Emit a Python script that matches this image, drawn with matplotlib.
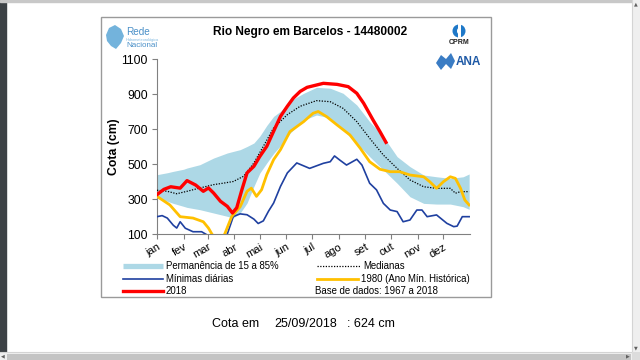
import matplotlib
matplotlib.use("Agg")
import matplotlib.pyplot as plt
from matplotlib.patches import Rectangle, Polygon, Ellipse
import numpy as np

plt.rcParams['font.family'] = ['Liberation Sans', 'DejaVu Sans']

# ---------------- data ----------------
months = ['jan', 'fev', 'mar', 'abr', 'mai', 'jun', 'jul', 'ago', 'set', 'out', 'nov', 'dez']
month_start_days = [0, 31, 59, 90, 120, 151, 181, 212, 243, 273, 304, 334]

band_days = [0, 12, 19, 31, 35, 50, 66, 82, 89, 97, 105, 113, 120, 128, 136, 145, 155, 171,
             186, 202, 217, 233, 248, 264, 280, 295, 311, 326, 342, 357, 364]
band_upper = [439, 450, 458, 470, 477, 496, 534, 563, 572, 582, 600, 620, 660, 720, 772, 805,
              860, 904, 938, 933, 904, 837, 742, 656, 542, 485, 437, 427, 418, 427, 443]
band_lower = [306, 287, 275, 258, 252, 239, 220, 201, 192, 220, 277, 372, 449, 506, 560, 610,
              675, 751, 780, 763, 694, 618, 542, 466, 390, 313, 275, 271, 271, 256, 241]

median_days = [0, 12, 23, 35, 50, 66, 78, 89, 101, 113, 124, 136, 152, 167, 186, 202, 217,
               233, 248, 264, 280, 295, 311, 326, 342, 348, 354, 364]
median_vals = [350, 344, 330, 344, 363, 382, 391, 400, 430, 506, 601, 706, 782, 830, 862, 856,
               818, 742, 647, 551, 475, 409, 370, 361, 361, 333, 342, 342]

y2018_days = [0, 8, 16, 27, 35, 45, 54, 60, 66, 74, 82, 88, 93, 99, 105, 113, 120, 128, 136,
              144, 152, 159, 167, 175, 194, 210, 223, 233, 241, 252, 260, 267]
y2018_vals = [325, 355, 370, 362, 405, 380, 344, 363, 334, 287, 258, 220, 250, 353, 449, 487,
              544, 601, 687, 772, 830, 877, 915, 938, 961, 955, 942, 904, 847, 751, 685, 624]

y1980_days = [0, 15, 27, 42, 54, 60, 64, 72, 79, 87, 97, 105, 110, 116, 122, 128, 136, 144,
              155, 171, 182, 188, 198, 210, 225, 237, 248, 260, 272, 283, 295, 311, 318, 326,
              334, 342, 348, 354, 359, 364]
y1980_vals = [315, 266, 199, 191, 170, 134, 100, 50, 100, 199, 256, 344, 362, 315, 353, 439,
              525, 582, 685, 742, 790, 800, 770, 723, 666, 590, 513, 470, 456, 456, 437, 427,
              399, 361, 399, 427, 418, 361, 294, 266]

min_days = [0, 6, 12, 19, 23, 27, 33, 42, 52, 58, 70, 82, 89, 97, 105, 113, 118, 124, 130,
            136, 144, 152, 163, 178, 194, 202, 207, 213, 221, 233, 239, 248, 256, 264, 272,
            280, 287, 295, 303, 309, 315, 326, 338, 346, 350, 356, 364]
min_vals = [199, 205, 191, 150, 134, 170, 133, 113, 113, 96, 60, 100, 200, 215, 210, 185, 160,
            175, 230, 277, 372, 449, 506, 475, 504, 513, 546, 523, 494, 527, 494, 390, 352,
            275, 237, 228, 170, 180, 237, 237, 199, 209, 161, 142, 145, 199, 199]

yticks = [100, 300, 500, 700, 900, 1100]

title = 'Rio Negro em Barcelos - 14480002'
ylabel = 'Cota (cm)'
legend_labels = ['Permanência de 15 a 85%', 'Medianas', 'Mínimas diárias',
                 '1980 (Ano Mín. Histórica)', '2018', 'Base de dados: 1967 a 2018']
footer = ['Cota em', '25/09/2018', ': 624 cm']

# ---------------- figure ----------------
W, H = 640, 360
fig = plt.figure(figsize=(6.4, 3.6), dpi=100)
fig.patch.set_facecolor('white')

# overlay in pixel coordinates
ov = fig.add_axes([0, 0, 1, 1])
ov.set_xlim(0, W)
ov.set_ylim(H, 0)
ov.axis('off')

# browser chrome
ov.add_patch(Rectangle((0, 0), 6, 352, color='#3d4246', zorder=1))
ov.add_patch(Rectangle((0, 0), W, 1.5, color='#c8c8c8', zorder=1))
ov.add_patch(Rectangle((632, 0), 8, 352, facecolor='#efefef', edgecolor='none', zorder=1))
ov.plot([632, 632], [0, 352], color='#d4d4d4', lw=0.8, zorder=2)
ov.add_patch(Rectangle((0, 352), W, 8, facecolor='#efefef', edgecolor='none', zorder=1))
ov.add_patch(Rectangle((7, 353.5), 624, 6.5, facecolor='#c4c4c4', edgecolor='none', zorder=2))
ov.plot([0, 632], [352, 352], color='#d4d4d4', lw=0.8, zorder=2)
ov.add_patch(Rectangle((632, 352), 8, 8, facecolor='#dcdcdc', edgecolor='none', zorder=2))
ov.text(636, 4, '▲', fontsize=3.5, color='#606060', ha='center', va='center', family='DejaVu Sans')
ov.text(636, 348, '▼', fontsize=3.5, color='#606060', ha='center', va='center', family='DejaVu Sans')
ov.text(3, 356, '◀', fontsize=3.5, color='#606060', ha='center', va='center', family='DejaVu Sans')
ov.text(628, 356, '▶', fontsize=3.5, color='#606060', ha='center', va='center', family='DejaVu Sans')

# chart frame
ov.add_patch(Rectangle((101, 17), 390, 280, facecolor='none', edgecolor='#9a9a9a', lw=1.0, zorder=2))

# title
ov.text(310, 32, title, fontsize=8.6, fontweight='bold', ha='center', va='center', color='black')

# Rede logo (approximation)
ov.add_patch(Polygon([[106, 35], [109, 28], [115, 25], [121, 29], [124, 36], [121, 43],
                      [116, 49], [111, 46], [107, 41]], closed=True, facecolor='#5aa6d6',
                     edgecolor='none', alpha=0.85, zorder=3))
ov.text(126, 32, 'Rede', fontsize=7.2, color='#4a90c8', ha='left', va='center')
ov.text(126, 39.5, 'Hidrometeorológica', fontsize=2.8, color='#7fb8e0', ha='left', va='center')
ov.text(126, 45.5, 'Nacional', fontsize=5.8, color='#4a90c8', ha='left', va='center')

# CPRM logo (approximation)
ov.add_patch(Ellipse((459, 31), 13, 13, facecolor='#1e78c8', edgecolor='none', zorder=3))
ov.add_patch(Rectangle((457.5, 23), 3, 16, facecolor='white', edgecolor='none', zorder=4))
ov.add_patch(Ellipse((459, 31), 4, 6, facecolor='white', edgecolor='none', zorder=4))
ov.text(459, 43, 'CPRM', fontsize=5.0, fontweight='bold', color='#222222', ha='center', va='center')

# ANA logo (approximation)
ov.add_patch(Polygon([[436, 63], [441, 55], [446, 59], [451, 53], [455, 61], [451, 69],
                      [446, 64], [441, 70]], closed=True, facecolor='#3a7cc4',
                     edgecolor='none', zorder=3))
ov.text(456, 62, 'ANA', fontsize=8.5, fontweight='bold', color='#1f5aa6', ha='left', va='center')

# ---------------- main axes ----------------
ax = fig.add_axes([157 / W, 1 - 234 / H, 313 / W, 175 / H])
ax.set_zorder(5)
ax.patch.set_alpha(0)
ax.set_xlim(0, 365)
ax.set_ylim(100, 1100)

ax.fill_between(band_days, band_lower, band_upper, color='#add8e6', lw=0, zorder=1)
ax.plot(min_days, min_vals, color='#1f40a0', lw=1.2, zorder=3)
ax.plot(median_days, median_vals, color='black', lw=0.9, ls=(0, (1, 1.2)), zorder=3)
ax.plot(y1980_days, y1980_vals, color='#ffc000', lw=2.0, zorder=4)
ax.plot(y2018_days, y2018_vals, color='#ff0000', lw=2.4, zorder=5)

for s in ['top', 'right']:
    ax.spines[s].set_visible(False)
for s in ['left', 'bottom']:
    ax.spines[s].set_color('#808080')
    ax.spines[s].set_linewidth(0.8)

ax.set_yticks(yticks)
ax.set_yticklabels([str(v) for v in yticks], fontsize=8.8)
ax.set_xticks(month_start_days)
ax.set_xticklabels(months, fontsize=8.0, rotation=30, ha='right', rotation_mode='anchor')
ax.tick_params(axis='both', direction='out', length=3.5, color='#808080', width=0.8)
ax.tick_params(axis='y', pad=3)
ax.tick_params(axis='x', pad=2)
ax.set_ylabel(ylabel, fontsize=8.8, fontweight='bold', labelpad=1)

# ---------------- legend (manual) ----------------
fs_leg = 6.9
ov.plot([123, 163], [266, 266], color='#add8e6', lw=3.8, solid_capstyle='butt', zorder=3)
ov.text(166, 266, legend_labels[0], fontsize=fs_leg, ha='left', va='center')
ov.plot([317, 360], [266, 266], color='black', lw=0.9, ls=(0, (1, 1.2)), zorder=3)
ov.text(363, 266, legend_labels[1], fontsize=fs_leg, ha='left', va='center')
ov.plot([123, 163], [279, 279], color='#1f40a0', lw=1.2, zorder=3)
ov.text(166, 279, legend_labels[2], fontsize=fs_leg, ha='left', va='center')
ov.plot([317, 358], [279, 279], color='#ffc000', lw=2.0, zorder=3)
ov.text(361, 279, legend_labels[3], fontsize=fs_leg, ha='left', va='center')
ov.plot([123, 163], [290.5, 290.5], color='#ff0000', lw=2.4, zorder=3)
ov.text(166, 290.5, legend_labels[4], fontsize=fs_leg, ha='left', va='center')
ov.text(315, 290.5, legend_labels[5], fontsize=fs_leg, ha='left', va='center')

# footer text
ov.text(212, 324, footer[0], fontsize=9, ha='left', va='center')
ov.text(274, 324, footer[1], fontsize=9, ha='left', va='center')
ov.text(347, 324, footer[2], fontsize=9, ha='left', va='center')

fig.savefig('out.png', dpi=100)
